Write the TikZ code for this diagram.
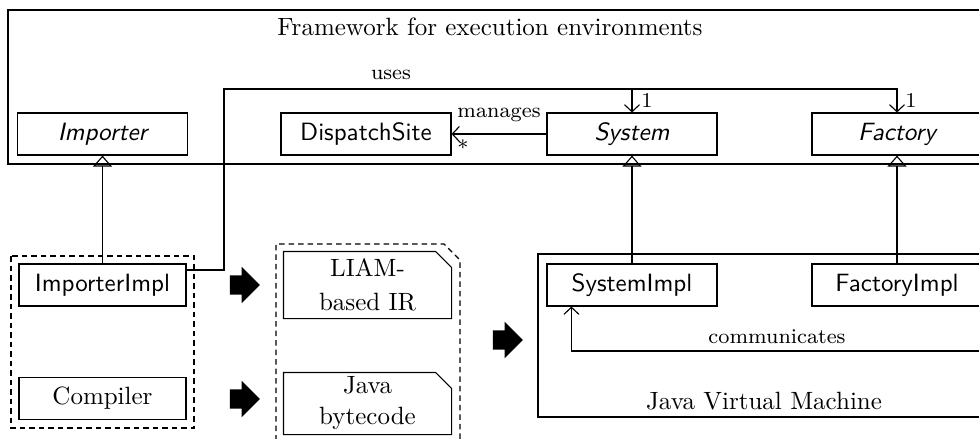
\documentclass[tikz,border=0pt]{standalone}
\usetikzlibrary{arrows.meta,shapes.arrows,calc}
\begin{document}
\begin{tikzpicture}[x=0.4pt,y=-0.4pt,
  cls/.style={draw,rectangle,minimum width=68pt,minimum height=16.8pt,inner sep=0pt,font=\sffamily},
  abst/.style={cls,font=\sffamily\itshape},
  lbl/.style={font=\fontsize{8.4}{10}\selectfont,inner sep=0pt},
  dsh/.style={dash pattern=on 2.2pt off 1.6pt},
  gen/.style={-{Triangle[open,length=4.4pt,width=7.6pt]}},
  assoc/.style={-{Straight Barb[length=2.8pt,width=6pt]}},
  fat/.style={single arrow,fill=black,draw=none,minimum height=12pt,minimum width=14pt,inner sep=3.6pt,single arrow head extend=3.4pt,shape border rotate=0},
  line width=0.45pt]
\useasboundingbox (0,0) rectangle (979,439);
\clip (0,0) rectangle (979,439);

% framework package
\draw (8,10) rectangle (1100,164);
\node[inner sep=0pt] (title) at (490,27) {Framework for execution environments};

\node[abst] (importer) at (102.5,134) {Importer};
\node[cls] (dispatch) at (366,134) {DispatchSite};
\node[abst] (system) at (632,134) {System};
\node[abst] (factory) at (897,134) {Factory};

% left dashed group
\draw[dsh] (11,256) rectangle (194,428);
\node[cls,minimum width=66.8pt] (impimpl) at (102.5,285) {ImporterImpl};
\node[cls,minimum width=66.8pt,font=\rmfamily] (compiler) at (102.5,398.5) {Compiler};

% documents
\draw[dsh] (276,450) -- (276,244) -- (444,244) -- (460,260) -- (460,450);
\node[minimum width=66.8pt,minimum height=26.4pt,align=center,inner sep=0pt] (liam) at (367.5,285) {LIAM-\\[1.6pt]based IR};
\draw (liam.south west) -- (liam.north west) -- ($(liam.north east)+(-16,0)$) -- ($(liam.north east)+(0,16)$) -- (liam.south east) -- cycle;
\node[minimum width=66.8pt,minimum height=24.4pt,align=center,inner sep=0pt] (java) at (367.5,403.5) {Java\\[0.4pt]bytecode};
\draw (java.south west) -- (java.north west) -- ($(java.north east)+(-16,0)$) -- ($(java.north east)+(0,16)$) -- (java.south east) -- cycle;

% fat arrows
\node[fat] (fa1) at (240,285) {};
\node[fat] (fa2) at (240,399) {};
\node[fat] (fa3) at (503,340) {};

% JVM
\draw (538,254) rectangle (1100,417);
\node[inner sep=0pt] (jvm) at (764,401) {Java Virtual Machine};
\node[cls] (sysimpl) at (632,285) {SystemImpl};
\node[cls] (facimpl) at (897,285) {FactoryImpl};

% generalizations
\draw[gen] (impimpl.north) -- (importer.south);
\draw[gen] (sysimpl.north) -- (system.south);
\draw[gen] (facimpl.north) -- (factory.south);

% uses
\coordinate (ucorner) at (224,89);
\draw[assoc] ($(impimpl.east)+(0,-15)$) -| (ucorner) -| (factory.north);
\draw[assoc] (system.north |- ucorner) -- (system.north);
\node[lbl] (uses) at (391,75) {uses};
\node[lbl] (one1) at (647,101) {1};
\node[lbl] (one2) at (911,101) {1};

% manages
\draw[assoc] (system.west) -- (dispatch.east);
\node[lbl] (manages) at (499,115) {manages};
\node[lbl] (star) at (463,148) {*};

% communicates
\coordinate (cfar) at (1100,351);
\coordinate (cend) at ($(sysimpl.south west)+(25,0)$);
\draw[assoc] (cfar) -| (cend);
\node[lbl] (comm) at (777,337) {communicates};
\end{tikzpicture}
\end{document}
